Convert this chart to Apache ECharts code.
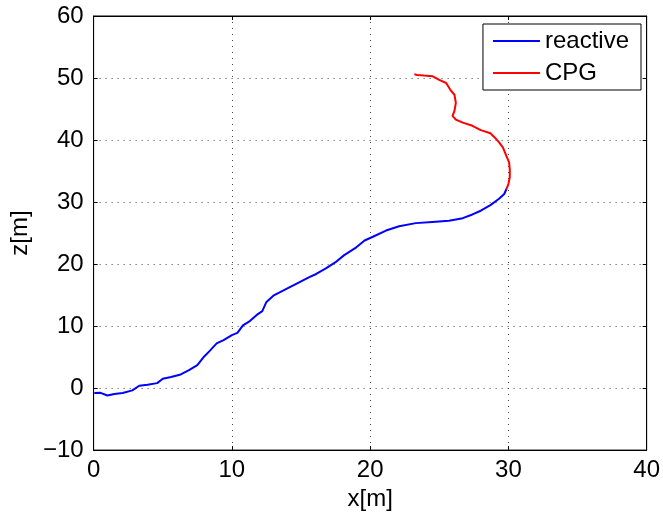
<!DOCTYPE html>
<html>
<head>
<meta charset="utf-8">
<script src="https://cdn.jsdelivr.net/npm/echarts@6/dist/echarts.min.js"></script>
<style>
  html, body { margin: 0; padding: 0; background: #fff; }
  #chart { width: 663px; height: 516px; }
</style>
</head>
<body>
<div id="chart"></div>
<script>
// trajectory, [x, z] in metres
const reactivePath = [
  [0.05, -0.8], [0.5, -0.77], [1.0, -1.2], [1.5, -0.95], [2.1, -0.8], [2.8, -0.37],
  [3.3, 0.37], [3.9, 0.53], [4.6, 0.8], [5.0, 1.5], [5.6, 1.8], [6.3, 2.2],
  [6.9, 2.9], [7.5, 3.7], [8.0, 5.1], [8.4, 6.0], [8.9, 7.2], [9.4, 7.75],
  [10.0, 8.55], [10.4, 8.9], [10.8, 10.1], [11.3, 10.8], [11.8, 11.8], [12.2, 12.4],
  [12.5, 13.9], [13.0, 14.9], [13.7, 15.7], [14.3, 16.4], [14.9, 17.1], [15.6, 17.9],
  [16.1, 18.4], [16.8, 19.3], [17.5, 20.3], [18.1, 21.4], [19.0, 22.7], [19.6, 23.8],
  [20.2, 24.4], [21.15, 25.4], [22.1, 26.1], [23.3, 26.6], [24.5, 26.8], [25.7, 27.0],
  [26.7, 27.4], [27.4, 28.0], [28.0, 28.6], [28.7, 29.5], [29.3, 30.5], [29.7, 31.3],
  [29.86, 32.1]
];
const cpgPath = [
  [29.86, 32.1], [30.0, 32.9], [30.1, 34.0], [30.1, 35.3], [30.05, 36.4], [29.86, 37.4],
  [29.6, 38.8], [29.3, 39.7], [28.97, 40.5], [28.7, 41.1], [28.0, 41.6], [27.4, 42.3],
  [26.7, 42.8], [26.2, 43.3], [25.96, 43.9], [26.1, 44.7], [26.2, 46.0], [26.1, 47.3],
  [25.8, 48.1], [25.5, 49.2], [25.0, 49.7], [24.5, 50.3], [23.9, 50.4], [23.4, 50.5],
  [23.2, 50.6]
];
const seriesNames = ["reactive", "CPG"];
const xTicks = [0, 10, 20, 30, 40];
const zTicks = [-10, 0, 10, 20, 30, 40, 50, 60];

const FONT = "Liberation Sans";
const FS = 24;
const minus = (v) => String(v).replace("-", "\u2212");

const chart = echarts.init(document.getElementById("chart"), null, { renderer: "canvas" });

const gridLine = { show: true, lineStyle: { color: "#444", type: [1, 5], width: 1 } };
const tick = { show: true, inside: true, length: 4, lineStyle: { color: "#000" } };
const blackLine = { show: true, onZero: false, lineStyle: { color: "#000" } };

chart.setOption({
  animation: false,
  backgroundColor: "#fff",
  grid: { left: 93, right: 14, top: 16, bottom: 64, show: true, borderColor: "#000", borderWidth: 1 },
  legend: {
    data: seriesNames,
    orient: "vertical",
    right: 22,
    top: 24,
    backgroundColor: "#fff",
    borderColor: "#000",
    borderWidth: 1,
    padding: [5, 12, 5, 10],
    itemGap: 8,
    itemWidth: 47,
    itemHeight: 2,
    icon: "rect",
    textStyle: { fontFamily: FONT, fontSize: FS, color: "#000" },
  },
  xAxis: [
    {
      type: "value", min: xTicks[0], max: xTicks[xTicks.length - 1], interval: 10,
      name: "x[m]", nameLocation: "middle", nameGap: 28,
      nameTextStyle: { fontFamily: FONT, fontSize: FS, color: "#000" },
      axisLine: blackLine,
      axisTick: tick,
      axisLabel: { fontFamily: FONT, fontSize: FS, color: "#000", margin: 8 },
      splitLine: gridLine,
    },
    {
      type: "value", position: "top", min: xTicks[0], max: xTicks[xTicks.length - 1], interval: 10,
      axisLine: blackLine,
      axisTick: tick, axisLabel: { show: false }, splitLine: { show: false },
    },
  ],
  yAxis: [
    {
      type: "value", min: zTicks[0], max: zTicks[zTicks.length - 1], interval: 10,
      name: "z[m]", nameLocation: "middle", nameGap: 54, nameRotate: 90,
      nameTextStyle: { fontFamily: FONT, fontSize: FS, color: "#000" },
      axisLine: blackLine,
      axisTick: tick,
      axisLabel: { fontFamily: FONT, fontSize: FS, color: "#000", margin: 10, formatter: minus },
      splitLine: gridLine,
    },
    {
      type: "value", position: "right", min: zTicks[0], max: zTicks[zTicks.length - 1], interval: 10,
      axisLine: blackLine,
      axisTick: tick, axisLabel: { show: false }, splitLine: { show: false },
    },
  ],
  series: [
    {
      name: seriesNames[0], type: "line", data: reactivePath, showSymbol: false, symbol: "none",
      lineStyle: { color: "#0000ff", width: 2 }, itemStyle: { color: "#0000ff" },
    },
    {
      name: seriesNames[1], type: "line", data: cpgPath, showSymbol: false, symbol: "none",
      lineStyle: { color: "#ff0000", width: 2 }, itemStyle: { color: "#ff0000" },
    },
  ],
});
</script>
</body>
</html>
